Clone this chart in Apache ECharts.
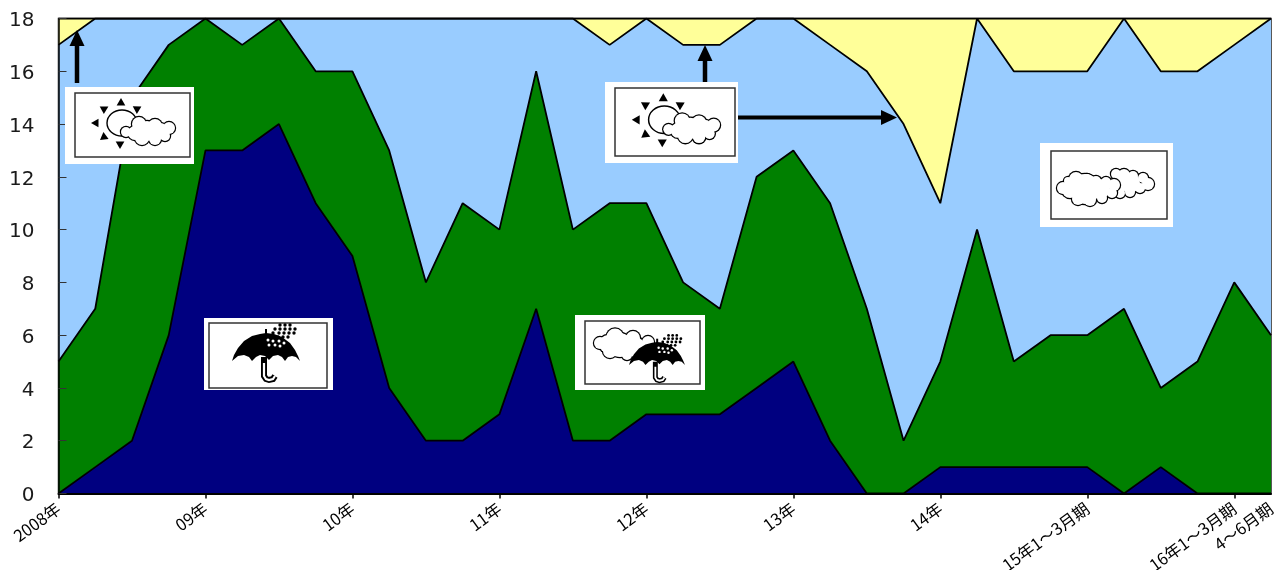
<!DOCTYPE html>
<html>
<head>
<meta charset="utf-8">
<style>html,body{margin:0;padding:0;background:#fff}#chart{width:1275px;height:570px}</style>
<script src="https://cdn.jsdelivr.net/npm/echarts@6/dist/echarts.min.js"></script>
</head>
<body>
<div id="chart"></div>
<script>
// quarterly labels, blanks between the year marks
const categories = ['2008年','','','','09年','','','','10年','','','','11年','','','','12年','','','','13年','','','','14年','','','','15年1～3月期','','','','16年1～3月期','4～6月期'];
// number of days per weather type, bottom to top of the stack
const rain      = [0,1,2,6,13,13,14,11,9,4,2,2,3,7,2,2,3,3,3,4,5,2,0,0,1,1,1,1,1,0,1,0,0,0];
const rainCloud = [5,6,13,11,5,4,4,5,7,9,6,9,7,9,8,9,8,5,4,8,8,9,7,2,4,9,4,5,5,7,3,5,8,6];
const cloud     = [12,11,3,1,0,1,0,2,2,5,10,7,8,2,8,6,7,9,10,6,5,6,9,12,6,8,11,10,10,11,12,11,9,12];
const sun       = [1,0,0,0,0,0,0,0,0,0,0,0,0,0,0,1,0,1,1,0,0,1,2,4,7,0,2,2,2,0,2,2,1,0];
const seriesNames = ['雨','雨時々曇り','曇り','晴れ時々曇り'];
const seriesColors = ['#000080','#008000','#99ccff','#ffff99'];
const yTicks = [0,2,4,6,8,10,12,14,16,18];

const chart = echarts.init(document.getElementById('chart'), null, {renderer: 'canvas'});

const stroke = {stroke: '#000', lineWidth: 1.4, fill: 'transparent'};

// cloud outline: black discs under slightly smaller white discs
function cloudShape(bumps) {
    const out = [];
    bumps.forEach(b => out.push({type: 'circle', shape: {cx: b[0], cy: b[1], r: b[2] + 1.2}, style: {fill: '#000'}}));
    bumps.forEach(b => out.push({type: 'circle', shape: {cx: b[0], cy: b[1], r: b[2]}, style: {fill: '#fff'}}));
    return out;
}

function tri(x, y, a) {
    const r = 5;
    const pts = [0, 2.1, 4.2].map(t => [x + r * Math.cos(a + t), y + r * Math.sin(a + t)]);
    return {type: 'polygon', shape: {points: pts}, style: {fill: '#000'}};
}

// sun and cloud drawing, local coords match the box at x 75, y 93
function sunCloud() {
    return [
        {type: 'ellipse', shape: {cx: 47, cy: 30, rx: 15, ry: 13}, style: stroke},
        tri(46, 10, -1.57), tri(29, 16, -2.6), tri(62, 16, -0.5), tri(21, 30, 3.14), tri(29, 44, 2.5), tri(45, 51, 1.57)
    ].concat(cloudShape([
        [51, 39, 5], [64, 31, 7], [80, 33, 7], [94, 35, 6], [90, 43, 5], [67, 45, 7], [80, 46, 6], [72, 38, 10], [85, 38, 8], [60, 40, 7]
    ]));
}

function rainDots(x, y, k) {
    const black = [[10,-5],[15,-5],[20,-5],[5,-1],[10,-1],[15,-1],[20,-1],[25,-1],[3,3],[9,3],[14,3],[19,3],[24,3],[8,7],[13,7],[18,7]];
    const white = [[-2,10],[3,11],[9,11],[14,13],[-1,15],[5,15],[10,16]];
    const dot = (d, c, r) => ({type: 'circle', shape: {cx: x + d[0] * k, cy: y + d[1] * k, r: r * k}, style: {fill: c}});
    return black.map(d => dot(d, '#000', 1.7)).concat(white.map(d => dot(d, '#fff', 1.5)));
}

function umbrella(x, y, w) {
    // canopy is w wide, top at y
    const k = w / 68;
    const p = (a, b) => [x + a * k, y + b * k];
    const canopy = [[0,28],[2,22],[6,15],[12,8],[20,3],[28,1],[34,0],[42,1],[50,4],[58,10],[63,17],[66,23],[68,28],
        [64,24],[60,23],[56,24],[53,28],[50,24],[46,22],[41,23],[37,27],[33,23],[28,22],[24,24],[20,28],[17,24],[12,22],[6,23]];
    const hook = [[32,24],[32,40],[32,43],[34,46],[37,47],[41,46],[43,43]];
    const core = [[32,30]].concat(hook.slice(1));
    return [
        {type: 'polygon', shape: {points: canopy.map(c => p(c[0], c[1]))}, style: {fill: '#000'}},
        {type: 'rect', shape: {x: x + 33 * k, y: y - 4 * k, width: 2, height: 5}, style: {fill: '#000'}},
        {type: 'polyline', shape: {points: hook.map(c => p(c[0], c[1]))}, style: {stroke: '#000', lineWidth: 6 * k, fill: 'transparent'}},
        {type: 'polyline', shape: {points: core.map(c => p(c[0], c[1]))}, style: {stroke: '#fff', lineWidth: 2.2 * k, fill: 'transparent'}}
    ].concat(rainDots(x + 38 * k, y - 3 * k, k));
}

// group z is not passed down, so every child gets it
function lift(el) {
    el.z = 10;
    if (el.children) el.children.forEach(lift);
    return el;
}

// white card with a thin framed panel, children in card coords
function card(x, y, w, h, px, py, pw, ph, children) {
    return lift({
        type: 'group', x: x, y: y,
        children: [
            {type: 'rect', shape: {x: 0, y: 0, width: w, height: h}, style: {fill: '#fff'}},
            {type: 'rect', shape: {x: px, y: py, width: pw, height: ph}, style: {fill: '#fff', stroke: '#333', lineWidth: 1.5}}
        ].concat(children)
    });
}

function arrowV(x, y0, y1) {
    return [
        {type: 'line', z: 10, shape: {x1: x, y1: y0, x2: x, y2: y1 + 10}, style: {stroke: '#000', lineWidth: 4.5}},
        {type: 'polygon', z: 10, shape: {points: [[x, y1], [x - 7.5, y1 + 16], [x + 7.5, y1 + 16]]}, style: {fill: '#000'}}
    ];
}

function arrowH(y, x0, x1) {
    return [
        {type: 'line', z: 10, shape: {x1: x0, y1: y, x2: x1 - 10, y2: y}, style: {stroke: '#000', lineWidth: 4}},
        {type: 'polygon', z: 10, shape: {points: [[x1, y], [x1 - 16, y - 7.5], [x1 - 16, y + 7.5]]}, style: {fill: '#000'}}
    ];
}

const graphics = [].concat(
    arrowV(77, 83, 30),
    arrowV(705, 83, 45),
    arrowH(117.5, 737, 897),
    [
        card(65, 87, 129, 77, 10, 6, 115, 64, [{type: 'group', x: 10, y: 6, children: sunCloud()}]),
        card(605, 82, 133, 81, 10, 6, 120, 68, [{type: 'group', x: 10, y: 6, scaleX: 1.05, scaleY: 1.06, children: sunCloud()}]),
        card(1040, 143, 133, 84, 11, 8, 116, 68, [].concat(
            cloudShape([[76, 31, 5], [84, 32, 6], [93, 33, 5], [103, 35, 5], [108, 41, 6], [100, 45, 5], [90, 49, 5], [80, 50, 5], [90, 40, 10], [80, 40, 8]]),
            cloudShape([[23, 45, 6], [28, 38, 4], [36, 36, 7], [47, 36, 5], [56, 38, 5], [66, 39, 5], [74, 42, 6], [72, 50, 5], [62, 55, 5], [50, 57, 6], [38, 56, 6], [45, 46, 15], [60, 46, 10], [30, 47, 8]])
        )),
        card(204, 318, 129, 72, 5, 5, 118, 65, umbrella(28, 15, 68)),
        card(575, 315, 130, 75, 10, 6, 115, 63, [].concat(
            cloudShape([[25, 28, 6], [40, 22, 8.5], [58, 23, 7], [73, 27, 6], [35, 36, 7], [52, 40, 5], [33, 29, 9], [45, 30, 12], [60, 32, 10]]),
            umbrella(54, 27, 56)
        ))
    ]
);

chart.setOption({
    animation: false,
    backgroundColor: '#fff',
    grid: {left: 58.5, right: 4, top: 18.5, bottom: 76.5, outerBoundsMode: 'none', show: true, borderColor: '#222', borderWidth: 1.5, backgroundColor: 'transparent'},
    xAxis: {
        type: 'category',
        data: categories,
        boundaryGap: false,
        z: 5,
        axisLine: {lineStyle: {color: '#000', width: 2}},
        axisTick: {length: 5, alignWithLabel: true, interval: (i) => i % 4 === 0, lineStyle: {color: '#000', width: 1.5}},
        axisLabel: {
            interval: 0, rotate: 36, margin: 13, hideOverlap: false,
            fontFamily: '"Noto Sans CJK JP", sans-serif', fontSize: 16.5, color: '#000'
        },
        splitLine: {show: false}
    },
    yAxis: {
        type: 'value',
        min: 0, max: 18, interval: 2,
        z: 5,
        axisLine: {show: true, lineStyle: {color: '#000', width: 1.5}},
        axisTick: {show: true, inside: true, length: 8, lineStyle: {color: '#333', width: 1}},
        axisLabel: {
            margin: 24,
            formatter: (v) => yTicks.includes(v) ? '{n|' + v + '}' : '',
            rich: {n: {padding: [5, 0, 0, 0], fontFamily: '"DejaVu Sans", sans-serif', fontSize: 20, color: '#1a1a1a'}}
        },
        splitLine: {show: false}
    },
    series: [rain, rainCloud, cloud, sun].map((vals, i) => ({
        name: seriesNames[i],
        type: 'line',
        stack: 'days',
        data: vals,
        symbol: 'none',
        lineStyle: {color: '#000', width: 1.8},
        areaStyle: {color: seriesColors[i], opacity: 1},
        emphasis: {disabled: true}
    })),
    graphic: graphics
});
</script>
</body>
</html>
